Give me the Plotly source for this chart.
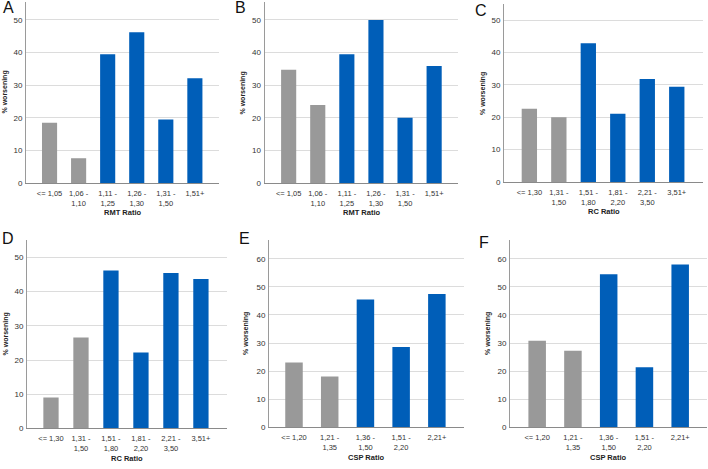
import plotly.graph_objects as go

# ---------------- data ----------------
rmt_labels = ["<= 1,05", "1,06 -<br>1,10", "1,11 -<br>1,25", "1,26 -<br>1,30", "1,31 -<br>1,50", "1,51+"]
rc_labels = ["<= 1,30", "1,31 -<br>1,50", "1,51 -<br>1,80", "1,81 -<br>2,20", "2,21 -<br>3,50", "3,51+"]
csp_labels = ["<= 1,20", "1,21 -<br>1,35", "1,36 -<br>1,50", "1,51 -<br>2,20", "2,21+"]

values_A = [18.5, 7.6, 39.5, 46.2, 19.5, 32.1]
values_B = [34.7, 23.9, 39.5, 50.0, 20.0, 35.9]
values_C = [22.6, 20.0, 42.9, 21.1, 31.8, 29.4]
values_D = [9.0, 26.6, 46.2, 22.2, 45.5, 43.7]
values_E = [23.1, 18.1, 45.5, 28.6, 47.4]
values_F = [30.8, 27.3, 54.5, 21.4, 57.9]

n_gray = 2  # first two categories are grey (reference), remaining blue

panels = [
    ("A", rmt_labels, values_A, "RMT Ratio"),
    ("B", rmt_labels, values_B, "RMT Ratio"),
    ("C", rc_labels, values_C, "RC Ratio"),
    ("D", rc_labels, values_D, "RC Ratio"),
    ("E", csp_labels, values_E, "CSP Ratio"),
    ("F", csp_labels, values_F, "CSP Ratio"),
]

# ---------------- layout geometry (pixels) ----------------
W, H = 708, 469
GRAY = "#999999"
BLUE = "#005EB8"
FONT = "Liberation Sans, Arial, sans-serif"

# (x0, x1, ytop, yzero, ymax, letter_x, letter_y, bar_width, ytitle_x, pad_l, pad_r)
geo = [
    (26, 219, 2, 185, 55.5, 2, -2, 0.52, 5, 0.31, 0.33),
    (264.5, 458, 2, 185, 55.5, 234, -2, 0.52, 243, 0.33, 0.32),
    (504, 703, 4, 184, 55.0, 474, 1, 0.52, 483, 0.36, 0.39),
    (27, 227, 243, 433, 55.0, 1, 231, 0.51, 6, 0.30, 0.37),
    (269, 464, 243, 432, 66.5, 238, 231, 0.49, 246, 0.20, 0.26),
    (510, 707, 243, 432, 66.5, 478, 236, 0.49, 488, 0.26, 0.25),
]

def px_x(p):
    return p / W

def px_y(p):
    return 1 - p / H

fig = go.Figure()
annotations = []

for i, ((letter, labels, vals, xtitle), g) in enumerate(zip(panels, geo)):
    x0, x1, ytop, yzero, ymax, lx, ly, bw, ytx, pl, pr = g
    sfx = "" if i == 0 else str(i + 1)
    n = len(vals)
    colors = [GRAY if k < n_gray else BLUE for k in range(n)]
    fig.add_trace(go.Bar(
        x=labels, y=vals, marker=dict(color=colors, line=dict(width=0)),
        width=bw, xaxis="x" + sfx, yaxis="y" + sfx, showlegend=False,
        hoverinfo="x+y",
    ))
    fig.update_layout(**{
        "xaxis" + sfx: dict(
            domain=[px_x(x0), px_x(x1)], anchor="y" + sfx,
            range=[-0.5 - pl, n - 0.5 + pr],
            showline=True, linecolor="#8a8a8a", linewidth=1,
            showgrid=False, ticks="", ticklabelstandoff=3,
            tickfont=dict(family=FONT, size=7.5, color="#333333"),
            categoryorder="array", categoryarray=labels, fixedrange=True,
        ),
        "yaxis" + sfx: dict(
            domain=[px_y(yzero), px_y(ytop)], anchor="x" + sfx,
            range=[0, ymax], dtick=10, showline=True, linecolor="#9a9a9a",
            linewidth=1, showgrid=True, gridcolor="#dcdcdc", gridwidth=1,
            zeroline=False, ticks="", ticklabelstandoff=1,
            tickfont=dict(family=FONT, size=8, color="#333333"), fixedrange=True,
        ),
    })
    # x-axis title
    annotations.append(dict(
        text="<b>" + xtitle + "</b>", x=(px_x(x0) + px_x(x1)) / 2, y=px_y(yzero + 30),
        xref="paper", yref="paper", showarrow=False, xanchor="center", yanchor="middle",
        font=dict(family=FONT, size=7.5, color="#222222"),
    ))
    # y-axis title
    annotations.append(dict(
        text="<b>% worsening</b>", x=px_x(ytx), y=(px_y(yzero) + px_y(ytop)) / 2,
        xref="paper", yref="paper", showarrow=False, xanchor="center", yanchor="middle",
        textangle=-90, font=dict(family=FONT, size=7, color="#222222"),
    ))
    # panel letter
    annotations.append(dict(
        text=letter, x=px_x(lx), y=px_y(ly), xref="paper", yref="paper",
        showarrow=False, xanchor="left", yanchor="top", borderpad=0,
        font=dict(family=FONT, size=16, color="#111111"),
    ))

fig.update_layout(
    width=W, height=H, margin=dict(l=0, r=0, t=0, b=0),
    paper_bgcolor="white", plot_bgcolor="white",
    annotations=annotations, font=dict(family=FONT),
)

fig.write_html(
    "out.html",
    config={"displayModeBar": False},
    post_script="document.body.style.margin='0';document.body.style.overflow='hidden';",
)
